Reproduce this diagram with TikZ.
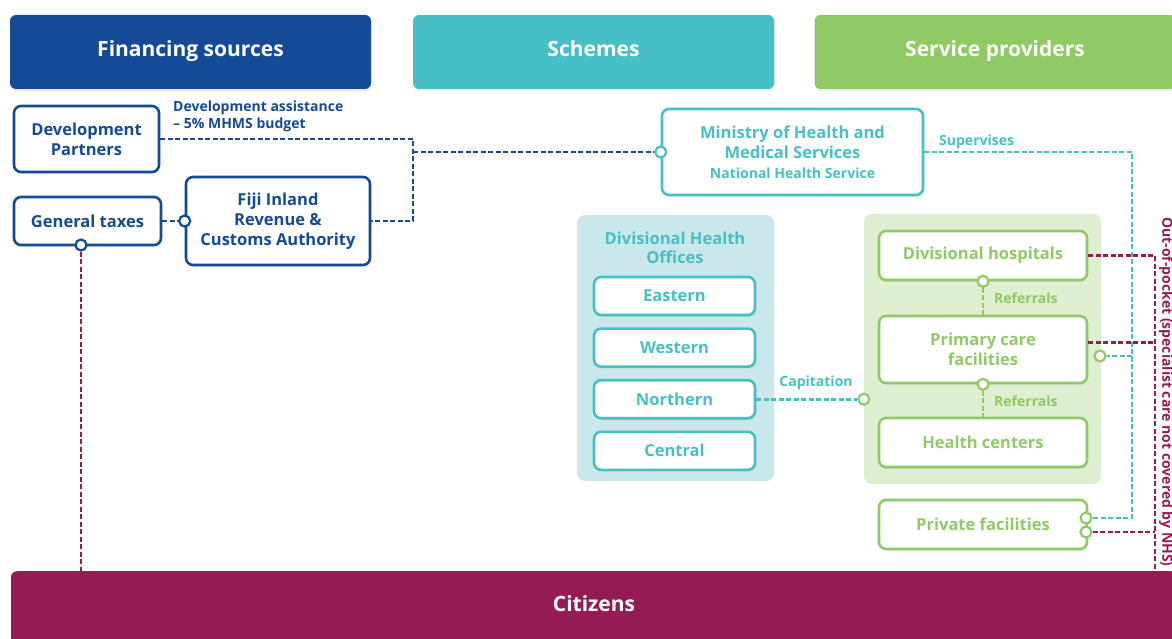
\documentclass[tikz,border=0pt]{standalone}
\usepackage{fontspec}
\setmainfont{Open Sans}
\usetikzlibrary{positioning, shadows, calc}
\definecolor{cNavy}{RGB}{21, 74, 150}
\definecolor{cTeal}{RGB}{70, 192, 198}
\definecolor{cGreen}{RGB}{143, 202, 102}
\definecolor{cCrim}{RGB}{149, 27, 84}
\definecolor{bTeal}{RGB}{202, 232, 235}
\definecolor{bGreen}{RGB}{222, 238, 208}

\begin{document}
\begin{tikzpicture}[
    x=1pt, y=-1pt,
    font=\bfseries,
    head/.style={
        fill=#1,
        rounded corners=6pt,
        text=white,
        minimum width=361pt,
        minimum height=74pt,
        text height=15pt,
        text depth=5pt,
        font=\bfseries\fontsize{21}{24}\selectfont,
        drop shadow={opacity=0.15, shadow xshift=1pt, shadow yshift=-2pt}
    },
    block/.style={
        draw=#1,
        text=#1,
        fill=white,
        line width=2.6pt,
        rounded corners=7pt,
        align=center,
        inner sep=2pt,
        font=\bfseries\fontsize{16.5}{20}\selectfont,
        drop shadow={opacity=0.12, shadow xshift=1pt, shadow yshift=-2pt}
    },
    panel/.style={fill=#1, rounded corners=8pt},
    link/.style={draw=#1, line width=2.7pt, dash pattern=on 5pt off 2.5pt},
    port/.style={circle, draw=#1, fill=white, line width=2.2pt, inner sep=0pt, minimum size=11pt},
    tag/.style={text=#1, inner sep=0pt, font=\bfseries\fontsize{14}{17}\selectfont}
]
\useasboundingbox (0,0) rectangle (1172,639);

% Column headers
\node[head=cNavy] (hfin) at (190.5, 52) {Financing sources};
\node[head=cTeal] (hsch) at (593.5, 52) {Schemes};
\node[head=cGreen] (hsrv) at (995, 52) {Service providers};

% Background panels
\node[panel=bTeal, minimum width=197pt, minimum height=266pt] (tpanel) at (675.5, 348) {};
\node[panel=bGreen, minimum width=237pt, minimum height=270pt] (gpanel) at (982.5, 349) {};
\node[tag=cTeal, align=center, font=\bfseries\fontsize{16.5}{19.5}\selectfont] (dhotitle) at (675, 248) {Divisional Health\\Offices};

% Citizens bar
\node[fill=cCrim, rounded corners=6pt, minimum width=1166pt, minimum height=80pt, anchor=north] (citz) at (594, 571) {};
\node[text=white, font=\bfseries\fontsize{21}{24}\selectfont] (citztxt) at (594, 604) {Citizens};

% Financing sources
\node[block=cNavy, minimum width=145pt, minimum height=66pt] (devp) at (86.5, 139) {Development\\Partners};
\node[block=cNavy, minimum width=147pt, minimum height=48pt] (gtax) at (87.5, 221) {General taxes};
\node[block=cNavy, minimum width=184pt, minimum height=88pt] (firca) at (278, 221) {Fiji Inland\\Revenue \&\\Customs Authority};
\node[tag=cNavy, align=left, anchor=north west] (devlbl) at (173, 101) {Development assistance\\– 5\% MHMS budget};

% Schemes
\node[block=cTeal, minimum width=261pt, minimum height=86pt] (moh) at (792.5, 152) {Ministry of Health and\\Medical Services\\{\fontsize{14}{17}\selectfont National Health Service}};
\node[block=cTeal, minimum width=161pt, minimum height=38pt] (east) at (674.5, 296) {Eastern};
\node[block=cTeal, minimum width=161pt, minimum height=38pt, below=11pt of east] (west) {Western};
\node[block=cTeal, minimum width=161pt, minimum height=38pt, below=11pt of west] (north) {Northern};
\node[block=cTeal, minimum width=161pt, minimum height=38pt, below=11pt of north] (cent) {Central};
\node[tag=cTeal, anchor=south] (caplbl) at (816, 390) {Capitation};
\node[tag=cTeal, anchor=south west] (suplbl) at (939, 149) {Supervises};

% Service providers
\node[block=cGreen, minimum width=208pt, minimum height=49pt] (dhosp) at (983, 255.5) {Divisional hospitals};
\node[block=cGreen, minimum width=208pt, minimum height=67pt] (pcare) at (983, 349.5) {Primary care\\facilities};
\node[block=cGreen, minimum width=208pt, minimum height=49pt] (hcent) at (983, 442.5) {Health centers};
\node[block=cGreen, minimum width=208pt, minimum height=49pt] (pfac) at (983, 524.5) {Private facilities};
\node[tag=cGreen, anchor=west] (ref1) at (994, 298) {Referrals};
\node[tag=cGreen, anchor=west] (ref2) at (994, 401) {Referrals};
\node[tag=cCrim, rotate=-90] (ooplbl) at (1166, 392) {Out-of-pocket (specialist care not covered by NHS)};

% Ports
\node[port=cTeal] (mohin) at (moh.west) {};
\node[port=cNavy] (fircain) at (firca.west) {};
\node[port=cNavy] (gtaxout) at (81, 245) {};
\node[port=cGreen] (capin) at (gpanel.west |- north) {};
\node[port=cGreen] (rf1) at (dhosp.south) {};
\node[port=cGreen] (rf2) at (pcare.south) {};
\node[port=cGreen] (pcp) at (1100, 356) {};
\node[port=cGreen] (pfu) at (1086, 518) {};
\node[port=cGreen] (pfl) at (1086, 532) {};

% Connectors
\coordinate (jfin) at (413, 152);
\coordinate (jtl) at (1132, 356);
\coordinate (oop) at (1155, 571);

\draw[link=cNavy] (devp.east) -| (jfin) |- (firca.east);
\draw[link=cNavy] (jfin) -- (mohin);
\draw[link=cNavy] (gtax) -- (fircain);
\draw[link=cCrim] (gtaxout) -- (gtaxout |- citz.north);
\draw[link=cTeal] (moh.east) -| (jtl) |- (pfu);
\draw[link=cTeal] (jtl) -- (pcp);
\draw[link=cTeal] (north) -- (capin);
\draw[link=cGreen] (rf1) -- (pcare);
\draw[link=cGreen] (rf2) -- (hcent);
\draw[link=cCrim] (dhosp) -| (oop);
\draw[link=cCrim] ([yshift=7pt]pcare.east) -- ([yshift=7pt]pcare.east -| oop);
\draw[link=cCrim] (pfl) -- (pfl -| oop);

\end{tikzpicture}
\end{document}
